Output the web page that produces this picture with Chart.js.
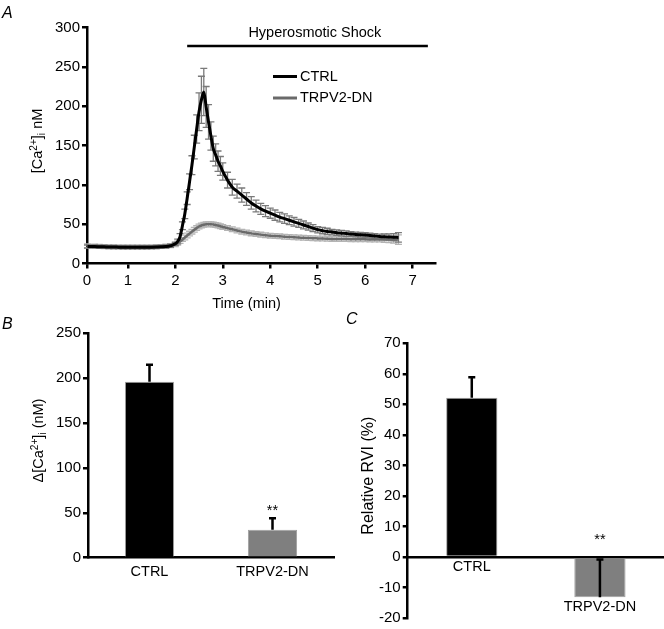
<!DOCTYPE html>
<html>
<head>
<meta charset="utf-8">
<script src="https://cdn.jsdelivr.net/npm/chart.js@4.4.1/dist/chart.umd.min.js"></script>
<style>
  html, body { margin: 0; padding: 0; background: #fff; }
  #wrap { position: relative; width: 664px; height: 629px; overflow: hidden; font-family: "Liberation Sans", Arial, sans-serif; }
  #wrap canvas { position: absolute; left: 0; top: 0; }
  .panel { position: absolute; font-style: italic; font-size: 16px; line-height: 1; color: #000; }
</style>
</head>
<body>
<div id="wrap">
  <canvas id="chartA" width="664" height="629"></canvas>
  <canvas id="chartB" width="664" height="629"></canvas>
  <canvas id="chartC" width="664" height="629"></canvas>
  <div class="panel" style="left:2px;top:5px">A</div>
  <div class="panel" style="left:2px;top:316px">B</div>
  <div class="panel" style="left:346px;top:311px">C</div>
</div>
<script>
(function () {
    // ===== Data =====
    // panel A: time course (min) and [Ca2+]i (nM), mean and SEM
    const timeMin = [
        0.15, 0.3, 0.4, 0.5, 0.6, 0.7, 0.8, 0.9, 1.0, 1.1, 1.2, 1.3, 1.4, 1.5, 1.6, 1.7, 1.8, 1.9,
        2.0, 2.05, 2.1, 2.15, 2.2, 2.25, 2.3, 2.35, 2.4, 2.45, 2.5, 2.55, 2.6, 2.65, 2.7, 2.75, 2.8, 2.85, 2.9, 2.95,
        3.0, 3.1, 3.2, 3.3, 3.4, 3.5, 3.6, 3.7, 3.8, 3.9, 4.0, 4.1, 4.2, 4.3, 4.4, 4.5, 4.6, 4.7, 4.8, 4.9,
        5.0, 5.1, 5.2, 5.3, 5.4, 5.5, 5.6, 5.7, 5.8, 5.9, 6.0, 6.1, 6.2, 6.3, 6.4, 6.5, 6.6, 6.7
    ];
    const ctrlCa = [
        21.5, 21.5, 21.3, 21.2, 21, 21, 20.8, 20.6, 20.5, 20.5, 20.5, 20.6, 20.6, 20.8, 21, 21.2, 21.5, 22.5,
        25, 28, 34, 48, 63, 83, 104, 125, 148, 171, 193, 208, 218, 199, 180, 162, 146, 138, 130, 124,
        117, 106, 97, 92, 87, 82, 77, 73, 69.5, 66.5, 64, 61.5, 59, 57, 55, 53, 51, 49, 47, 45,
        43, 41.8, 40.8, 40, 39.2, 38.6, 38, 37.4, 37, 36.6, 36.2, 35.6, 35, 34.4, 34, 33.7, 33.4, 33.2
    ];
    const ctrlSem = [
        2, 2, 2, 2, 2, 2, 2, 2, 2, 2, 2, 2, 2, 2, 2, 2, 2, 2,
        2, 3, 4, 5, 6, 8, 10, 12, 15, 18, 24, 30, 30, 26, 22, 18, 16, 14, 13, 12,
        11, 10, 10, 9, 9, 8, 8, 7.5, 7, 7, 6.5, 6.5, 6, 6, 5.5, 5.5, 5, 5, 4.5, 4.5,
        4, 4, 4, 3.5, 3.5, 3.5, 3.5, 3, 3, 3, 3, 3, 3, 3, 3.5, 4, 4.5, 6
    ];
    const dnCa = [
        22.5, 22, 21.8, 21.5, 21.3, 21.2, 21, 21, 21, 21, 21, 21, 21, 21.2, 21.4, 21.6, 22, 22.8,
        24, 26, 28, 30.5, 33, 35.5, 38, 40.5, 43, 45, 47, 48.3, 49.2, 49.8, 50, 50, 49.6, 49, 48.2, 47.4,
        46.5, 45, 43.5, 42, 40.5, 39.3, 38.3, 37.5, 36.7, 36, 35.4, 34.9, 34.5, 34.1, 33.7, 33.3, 33, 32.7, 32.4, 32.1,
        31.9, 31.7, 31.5, 31.3, 31.2, 31.1, 31, 30.9, 30.8, 30.7, 30.7, 30.6, 30.6, 30.5, 30.5, 30.5, 30.4, 30.4
    ];
    const dnSem = [
        2.5, 2.5, 2.5, 2.5, 2.5, 2.5, 2.5, 2.5, 2.5, 2.5, 2.5, 2.5, 2.5, 2.5, 2.5, 2.5, 2.5, 2.5,
        2.5, 2.5, 2.5, 2.5, 3, 3, 3, 3, 3, 3, 3, 3, 3, 3, 3, 3, 3, 3, 3, 3,
        3, 3, 3, 3, 3, 3, 3, 3, 3, 3, 3, 3, 3, 3, 3, 3, 3, 3, 3, 3,
        3, 3, 3, 3, 3, 3, 3, 3, 3, 3, 3, 3, 3, 3, 3.5, 4, 4.5, 6
    ];
    // x axis of A starts a bit after t=0 in the source figure; first tick is labelled 0
    const X_START = 0.14, X_END = 7.47;
    const xTicksA = [X_START, 1, 2, 3, 4, 5, 6, 7];
    const shockFrom = 2.25, shockTo = 7.32, shockLevel = 276.5;

    // panels B and C
    const groups = ['CTRL', 'TRPV2-DN'];
    const barColors = ['#000000', '#7f7f7f'];
    const deltaCa = [196, 31];
    const deltaCaSem = [19, 13];
    const rvi = [52.2, -13.2];
    const rviSem = [6.7, 12.4];

    // ===== Helpers =====
    const FONT = '"Liberation Sans", Arial, Helvetica, sans-serif';
    Chart.defaults.font.family = FONT;
    Chart.defaults.color = '#000';
    const $ = (sel) => document.querySelector(sel);

    // rotated axis title with sup/sub parts
    function drawRich(ctx, parts, cx, cy, size) {
        const small = size * 0.7;
        ctx.save();
        ctx.translate(cx, cy);
        ctx.rotate(-Math.PI / 2);
        ctx.fillStyle = '#000';
        ctx.textBaseline = 'alphabetic';
        let total = 0;
        parts.forEach(p => {
            ctx.font = `${p.sup || p.sub ? small : size}px ${FONT}`;
            p.w = ctx.measureText(p.t).width;
            total += p.w;
        });
        let x = -total / 2;
        const base = size * 0.35;
        parts.forEach(p => {
            ctx.font = `${p.sup || p.sub ? small : size}px ${FONT}`;
            const dy = p.sup ? -size * 0.38 : (p.sub ? size * 0.22 : 0);
            ctx.fillText(p.t, x, base + dy);
            x += p.w;
        });
        ctx.restore();
    }

    function axisStyle(extra) {
        return Object.assign({
            grid: { display: true, drawOnChartArea: false, drawTicks: true, tickLength: 5, color: '#000', lineWidth: 2.5 },
            border: { color: '#000', width: 2.5 },
            ticks: { color: '#000', font: { size: 15 }, padding: 2 }
        }, extra);
    }

    // ===== Panel A =====
    const extrasA = {
        id: 'extrasA',
        beforeDatasetsDraw(chart) {
            const { ctx, scales: { x, y } } = chart;
            ctx.save();
            // draw TRPV2-DN error bars first, CTRL on top
            chart.data.datasets.slice().reverse().forEach(ds => {
                ctx.strokeStyle = ds.semColor;
                ctx.lineWidth = 1.3;
                ds.data.forEach((p, i) => {
                    const px = x.getPixelForValue(p.x);
                    const lo = y.getPixelForValue(p.y - ds.sem[i]);
                    const hi = y.getPixelForValue(p.y + ds.sem[i]);
                    ctx.beginPath();
                    ctx.moveTo(px, lo); ctx.lineTo(px, hi);
                    ctx.moveTo(px - 3.5, lo); ctx.lineTo(px + 3.5, lo);
                    ctx.moveTo(px - 3.5, hi); ctx.lineTo(px + 3.5, hi);
                    ctx.stroke();
                });
            });
            ctx.restore();
        },
        afterDraw(chart) {
            const { ctx, chartArea: a, scales: { x, y } } = chart;
            ctx.save();
            // treatment bar
            ctx.strokeStyle = '#000';
            ctx.lineWidth = 2.5;
            const sy = y.getPixelForValue(shockLevel);
            ctx.beginPath();
            ctx.moveTo(x.getPixelForValue(shockFrom), sy);
            ctx.lineTo(x.getPixelForValue(shockTo), sy);
            ctx.stroke();
            ctx.fillStyle = '#000';
            ctx.font = `14.5px ${FONT}`;
            ctx.textAlign = 'center';
            ctx.textBaseline = 'middle';
            ctx.fillText('Hyperosmotic Shock', x.getPixelForValue(4.94), sy - 13);
            // legend
            const lx = a.left + 186;
            chart.data.datasets.forEach((ds, i) => {
                const ly = a.top + 49 + i * 21.5;
                ctx.strokeStyle = ds.borderColor;
                ctx.lineWidth = 3;
                ctx.beginPath();
                ctx.moveTo(lx, ly); ctx.lineTo(lx + 24, ly);
                ctx.stroke();
                ctx.textAlign = 'left';
                ctx.fillText(ds.label, lx + 27, ly);
            });
            // axis titles
            ctx.textAlign = 'center';
            ctx.fillText('Time (min)', x.getPixelForValue(3.5), a.bottom + 40);
            ctx.restore();
            drawRich(ctx, [{ t: '[Ca' }, { t: '2+', sup: true }, { t: ']' }, { t: 'i', sub: true }, { t: ' nM' }],
                a.left - 50, (a.top + a.bottom) / 2 - 4.5, 14.5);
        }
    };

    new Chart($('#chartA'), {
        type: 'line',
        data: {
            datasets: [
                {
                    label: 'CTRL', data: timeMin.map((t, i) => ({ x: t, y: ctrlCa[i] })), sem: ctrlSem,
                    borderColor: '#000', semColor: '#7a7a7a', borderWidth: 3
                },
                {
                    label: 'TRPV2-DN', data: timeMin.map((t, i) => ({ x: t, y: dnCa[i] })), sem: dnSem,
                    borderColor: '#6a6a6a', semColor: '#b4b4b4', borderWidth: 2.5
                }
            ]
        },
        options: {
            responsive: false,
            animation: false,
            layout: { padding: { left: 42, top: 27.5, right: 229, bottom: 335.5 } },
            elements: { point: { radius: 0 }, line: { cubicInterpolationMode: 'monotone' } },
            plugins: { legend: { display: false }, tooltip: { enabled: false } },
            scales: {
                x: axisStyle({
                    type: 'linear', min: X_START, max: X_END,
                    afterFit: s => { s.height = 30; },
                    afterBuildTicks: s => { s.ticks = xTicksA.map(v => ({ value: v })); },
                    ticks: { color: '#000', font: { size: 15 }, padding: 3, autoSkip: false, maxRotation: 0,
                        callback: v => Math.round(v) }
                }),
                y: axisStyle({
                    min: 0, max: 300,
                    afterFit: s => { s.width = 45; },
                    ticks: { color: '#000', font: { size: 15 }, padding: 2, stepSize: 50 }
                })
            }
        },
        plugins: [extrasA]
    });

    // ===== Panels B and C =====
    function barExtras(sem, starBase, title, titleSize, titleDx, labelsBelow) {
        return {
            id: 'barExtras',
            afterDatasetsDraw(chart) {
                const { ctx, chartArea: a, scales: { x, y } } = chart;
                const vals = chart.data.datasets[0].data;
                ctx.save();
                ctx.strokeStyle = '#000';
                ctx.lineWidth = 2.5;
                vals.forEach((v, i) => {
                    const px = x.getPixelForValue(i);
                    const y0 = y.getPixelForValue(v), y1 = y.getPixelForValue(v + sem[i]);
                    ctx.beginPath();
                    ctx.moveTo(px, y0); ctx.lineTo(px, y1);
                    ctx.moveTo(px - 3.5, y1); ctx.lineTo(px + 3.5, y1);
                    ctx.stroke();
                });
                ctx.fillStyle = '#000';
                ctx.font = `14.5px ${FONT}`;
                ctx.textAlign = 'center';
                ctx.textBaseline = 'alphabetic';
                ctx.fillText('**', x.getPixelForValue(1), starBase(y, vals));
                if (labelsBelow) {
                    ctx.textBaseline = 'middle';
                    vals.forEach((v, i) => {
                        const base = Math.max(y.getPixelForValue(0), y.getPixelForValue(v));
                        ctx.fillText(chart.data.labels[i], x.getPixelForValue(i), base + 10);
                    });
                }
                ctx.restore();
                drawRich(ctx, title, a.left + titleDx, (a.top + a.bottom) / 2 - 5, titleSize);
            }
        };
    }

    new Chart($('#chartB'), {
        type: 'bar',
        data: {
            labels: groups,
            datasets: [{ data: deltaCa, backgroundColor: barColors, borderColor: '#a0a0a0', borderWidth: 1,
                barPercentage: 0.4, categoryPercentage: 1 }]
        },
        options: {
            responsive: false,
            animation: false,
            layout: { padding: { left: 43, top: 333.3, right: 330, bottom: 41.3 } },
            plugins: { legend: { display: false }, tooltip: { enabled: false } },
            scales: {
                x: {
                    afterFit: s => { s.height = 30; },
                    grid: { display: false, drawTicks: false },
                    border: { color: '#000', width: 2.5 },
                    ticks: { color: '#000', font: { size: 14.5 }, padding: 6 }
                },
                y: axisStyle({
                    min: 0, max: 250,
                    afterFit: s => { s.width = 45; },
                    ticks: { color: '#000', font: { size: 15 }, padding: 2, stepSize: 50 }
                })
            }
        },
        plugins: [barExtras(deltaCaSem, (y, v) => y.getPixelForValue(v[1] + deltaCaSem[1]) - 3,
            [{ t: '\u0394[Ca' }, { t: '2+', sup: true }, { t: ']' }, { t: 'i', sub: true }, { t: ' (nM)' }],
            14.5, -50, false)]
    });

    new Chart($('#chartC'), {
        type: 'bar',
        data: {
            labels: groups,
            datasets: [{ data: rvi, backgroundColor: barColors, borderColor: '#a0a0a0', borderWidth: 1,
                barPercentage: 0.4, categoryPercentage: 1 }]
        },
        options: {
            responsive: false,
            animation: false,
            layout: { padding: { left: 362.7, top: 343.3, right: 0, bottom: 9.7 } },
            plugins: { legend: { display: false }, tooltip: { enabled: false } },
            scales: {
                x: {
                    position: { y: 0 },
                    grid: { display: false, drawTicks: false },
                    border: { color: '#000', width: 2.5 },
                    ticks: { display: false }
                },
                y: axisStyle({
                    min: -20, max: 70,
                    afterFit: s => { s.width = 45; },
                    ticks: { color: '#000', font: { size: 15 }, padding: 2, stepSize: 10 }
                })
            }
        },
        plugins: [barExtras(rviSem, (y) => y.getPixelForValue(0) - 13,
            [{ t: 'Relative RVI (%)' }], 16, -40, true)]
    });
})();
</script>
</body>
</html>
